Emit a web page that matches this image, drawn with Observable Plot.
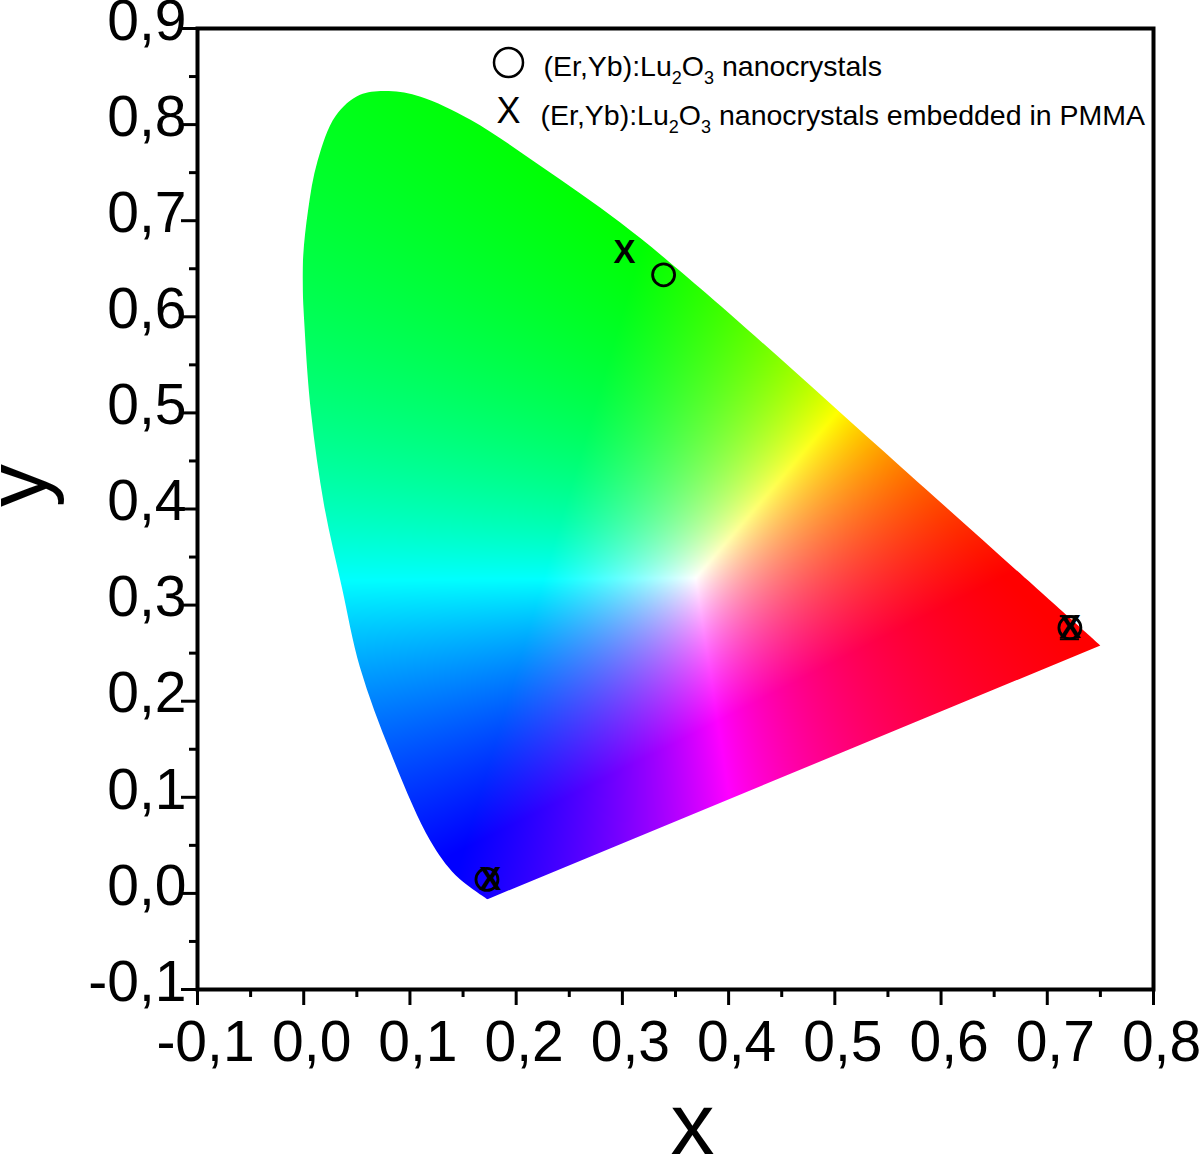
<!DOCTYPE html>
<html>
<head>
<meta charset="utf-8">
<script src="https://cdn.jsdelivr.net/npm/d3@7"></script>
<script src="https://cdn.jsdelivr.net/npm/@observablehq/plot@0.6"></script>
<style>html,body{margin:0;padding:0;background:#fff;overflow:hidden}svg{display:block}</style>
</head>
<body>
<script>
// Tick values and labels
const xMajor = [-0.1, 0, 0.1, 0.2, 0.3, 0.4, 0.5, 0.6, 0.7, 0.8];
const xLabels = ["-0,1", "0,0", "0,1", "0,2", "0,3", "0,4", "0,5", "0,6", "0,7", "0,8"];
const xMinor = [-0.05, 0.05, 0.15, 0.25, 0.35, 0.45, 0.55, 0.65, 0.75];
const yMajor = [-0.1, 0, 0.1, 0.2, 0.3, 0.4, 0.5, 0.6, 0.7, 0.8, 0.9];
const yLabels = ["-0,1", "0,0", "0,1", "0,2", "0,3", "0,4", "0,5", "0,6", "0,7", "0,8", "0,9"];
const yMinor = [-0.05, 0.05, 0.15, 0.25, 0.35, 0.45, 0.55, 0.65, 0.75, 0.85];

// Gamut outline (bottom tip, up the left side, over the top, down to the right tip)
const locusX = [0.173,0.143,0.119,0.082,0.053,0.036,0.019,0.007,0.001,-0.001,0.004,0.013,0.030,0.053,0.080,0.110,0.157,0.223,0.298,0.373,0.562,0.750];
const locusY = [-0.006,0.019,0.055,0.146,0.235,0.318,0.405,0.499,0.585,0.651,0.710,0.762,0.809,0.831,0.835,0.829,0.805,0.757,0.698,0.630,0.444,0.258];

// Colour-field anchors: R, G, B primaries and white
const primX = [0.66, 0.32, 0.15];
const primY = [0.33, 0.68, 0.045];
const whiteX = 0.369, whiteY = 0.328;

// Points
const circleX = [0.3388, 0.7213, 0.1725];
const circleY = [0.6437, 0.2765, 0.0145];
const crossX = [0.302, 0.7213, 0.1755];
const crossY = [0.6665, 0.2765, 0.0145];
const capX = 0.7213, capLow = 0.2645, capHigh = 0.2885;
const legendCircle = "(Er,Yb):Lu₂O₃ nanocrystals";
const legendCross = "(Er,Yb):Lu₂O₃ nanocrystals embedded in PMMA";
const FONT = "'Liberation Sans', Arial, sans-serif";

function invert3(m) {
  const [a,b,c,d,e,f,g,h,i] = m;
  const A=e*i-f*h,B=f*g-d*i,C=d*h-e*g;
  const det=a*A+b*B+c*C;
  return [A,c*h-b*i,b*f-c*e,B,a*i-c*g,c*d-a*f,C,b*g-a*h,a*e-b*d].map(v=>v/det);
}
const P = [primX[0],primX[1],primX[2],primY[0],primY[1],primY[2],
  1-primX[0]-primY[0],1-primX[1]-primY[1],1-primX[2]-primY[2]];
const Pinv = invert3(P);
const wv = [whiteX, whiteY, 1-whiteX-whiteY];
const sc = [0,1,2].map(k=>Pinv[3*k]*wv[0]+Pinv[3*k+1]*wv[1]+Pinv[3*k+2]*wv[2]);
function fieldColor(x, y) {
  const z = 1-x-y;
  const c = [0,1,2].map(k=>Math.max(0,(Pinv[3*k]*x+Pinv[3*k+1]*y+Pinv[3*k+2]*z)/sc[k]));
  const m = Math.max(c[0],c[1],c[2]) || 1;
  const v = c.map(u=>Math.round(255*u/m));
  return `rgb(${v[0]},${v[1]},${v[2]})`;
}

const clipId = "gamut-clip";
function clipToGamut(index, scales, values, dimensions, context, next) {
  const g = next(index, scales, values, dimensions, context);
  const line = d3.line().x(i=>scales.x(locusX[i])).y(i=>scales.y(locusY[i])).curve(d3.curveCatmullRom.alpha(0.5));
  const defs = d3.create("svg:defs");
  defs.append("clipPath").attr("id", clipId).append("path").attr("d", line(d3.range(locusX.length)) + "Z");
  g.insertBefore(defs.node(), g.firstChild);
  g.setAttribute("clip-path", `url(#${clipId})`);
  return g;
}
// Real subscripts in the legend text
function subscripts(index, scales, values, dimensions, context, next) {
  const g = next(index, scales, values, dimensions, context);
  for (const t of g.querySelectorAll("text")) {
    const s = t.textContent;
    t.textContent = "";
    const ns = "http://www.w3.org/2000/svg";
    let back = 0;
    for (const part of s.split(/([₂₃])/)) {
      if (!part) continue;
      const span = document.createElementNS(ns, "tspan");
      if (part === "₂" || part === "₃") {
        span.textContent = part === "₂" ? "2" : "3";
        span.setAttribute("font-size", 18);
        span.setAttribute("dy", 8);
        back = 1;
      } else {
        span.textContent = part;
        if (back) span.setAttribute("dy", -8);
        back = 0;
      }
      t.appendChild(span);
    }
  }
  return g;
}

const chart = Plot.plot({
  width: 1200, height: 1154,
  marginLeft: 197, marginRight: 47, marginTop: 28, marginBottom: 165,
  style: {fontFamily: FONT, background: "#fff", overflow: "hidden"},
  x: {domain: [-0.1, 0.8], label: null},
  y: {domain: [-0.1, 0.9], label: null},
  color: {type: "identity"},
  marks: [
    Plot.raster({x1: -0.1, x2: 0.8, y1: -0.1, y2: 0.9, pixelSize: 1, fill: (x, y) => fieldColor(x, y), render: clipToGamut}),
    Plot.dot(circleX.map((x,i)=>({x,y:circleY[i]})), {x:"x", y:"y", r:11, stroke:"#000", strokeWidth:2.8, fill:"none"}),
    Plot.text(crossX.map((x,i)=>({x,y:crossY[i]})), {x:"x", y:"y", text:()=>"X", fontSize:33, fontWeight:"bold", fill:"#000", lineAnchor:"middle"}),
    Plot.ruleY([capLow, capHigh], {x1: capX-0.009, x2: capX+0.009, stroke:"#000", strokeWidth:2}),
    Plot.frame({stroke:"#000", strokeWidth:4}),
    Plot.axisX({ticks:xMajor, tickSize:16, strokeWidth:3, stroke:"#000", tickFormat:()=>"", label:null}),
    Plot.axisX({ticks:xMajor, tickSize:0, fill:"#000", fontSize:57, tickPadding:31, dx:8,
      tickFormat:d=>xLabels[xMajor.findIndex(v=>Math.abs(v-d)<1e-9)], label:null}),
    Plot.axisX({ticks:xMinor, tickSize:8, strokeWidth:3, stroke:"#000", tickFormat:()=>"", label:null}),
    Plot.axisY({ticks:yMajor, tickSize:16, strokeWidth:3, stroke:"#000", tickFormat:()=>"", label:null}),
    Plot.axisY({ticks:yMajor, tickSize:0, fill:"#000", fontSize:57, tickPadding:11, dy:-7,
      tickFormat:d=>yLabels[yMajor.findIndex(v=>Math.abs(v-d)<1e-9)], label:null}),
    Plot.axisY({ticks:yMinor, tickSize:8, strokeWidth:3, stroke:"#000", tickFormat:()=>"", label:null}),
    Plot.dot([0], {frameAnchor:"top-left", dx:311, dy:34, r:14.5, stroke:"#000", strokeWidth:2.5, fill:"none"}),
    Plot.text(["X"], {frameAnchor:"top-left", dx:311, dy:83, fontSize:36, fill:"#000", textAnchor:"middle", lineAnchor:"middle"}),
    Plot.text([legendCircle], {frameAnchor:"top-left", dx:346, dy:38, fontSize:28.5, fill:"#000", textAnchor:"start", lineAnchor:"middle", render:subscripts}),
    Plot.text([legendCross], {frameAnchor:"top-left", dx:343, dy:87, fontSize:28.5, fill:"#000", textAnchor:"start", lineAnchor:"middle", render:subscripts}),
    Plot.text(["x"], {frameAnchor:"bottom", dx:17, dy:164, fontSize:88, fill:"#000", lineAnchor:"bottom"}),
    Plot.text(["y"], {frameAnchor:"left", dx:-179, dy:-2, fontSize:86, fill:"#000", rotate:-90, lineAnchor:"middle"})
  ]
});
document.body.appendChild(chart);
</script>
</body>
</html>
